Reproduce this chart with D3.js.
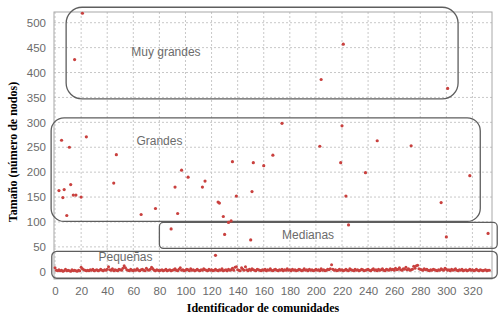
<!DOCTYPE html>
<html>
<head>
<meta charset="utf-8">
<script src="https://cdn.jsdelivr.net/npm/d3@7"></script>
<style>
  body { margin: 0; background: #fff; }
  .tick text { font-family: "Liberation Sans", Arial, sans-serif; font-size: 11.5px; fill: #6b6b6b; }
  .grid line { stroke: #c8c8c8; stroke-dasharray: 2,2; }
  .axis-title { font-family: "Liberation Serif", "Times New Roman", serif; font-weight: bold; font-size: 12px; fill: #000; }
  .box-label { font-family: "Liberation Sans", Arial, sans-serif; font-size: 12px; fill: #6b6b6b; }
</style>
</head>
<body>
<svg id="chart" width="500" height="317"></svg>
<script>
// communities with more than ~30 nodes: [identificador, tamaño]
var grandesIds = [21, 15, 221, 204, 301,
    5, 11, 24, 47, 174, 220, 203, 247, 273, 167,
    3, 6, 7, 9, 12, 14, 16, 20, 45, 66, 77, 92, 94, 97, 102, 113, 115, 125, 126, 129,
    135, 136, 139, 152, 160, 151, 219, 238, 223, 296, 318,
    89, 130, 133, 150, 225, 300, 332, 123]
var grandesSizes = [519, 426, 457, 386, 368,
    264, 250, 271, 235, 298, 293, 252, 263, 253, 234,
    163, 149, 165, 113, 175, 154, 154, 150, 178, 115, 127, 170, 117, 204, 190, 170, 182, 140, 138, 111,
    102, 221, 152, 219, 213, 161, 219, 199, 152, 139, 193,
    86, 75, 99, 64, 94, 70, 77, 33]

// small communities, one value per id 0..333
var pequenasSizes = [
    8,3,2,4,2,3,1,2,5,2,3,2,1,4,2,3,2,1,3,2,
    9,6,4,3,2,3,2,4,3,5,2,3,4,2,3,5,3,2,4,3,
    5,10,4,3,6,2,4,3,2,5,4,3,7,12,8,4,3,2,5,3,
    2,4,3,6,3,2,4,5,3,2,7,4,3,5,9,6,3,2,4,3,
    2,3,4,2,3,5,2,3,4,2,3,4,6,3,2,5,8,3,4,2,
    3,5,4,2,6,3,4,2,3,5,3,2,4,3,6,4,3,2,5,3,
    4,2,3,5,3,2,4,3,6,2,3,4,2,5,3,4,7,3,9,10,
    4,3,2,8,5,3,10,4,2,5,3,6,4,3,2,5,4,3,2,4,
    3,5,2,4,3,6,3,2,4,5,3,2,4,3,5,2,4,3,6,3,
    4,2,5,3,4,2,3,5,4,2,3,6,3,4,2,5,3,4,2,3,
    5,3,4,2,6,3,4,2,3,5,4,6,14,5,3,4,2,3,5,3,
    4,2,3,5,3,2,6,4,3,2,5,3,4,2,3,5,4,2,3,4,
    5,3,2,4,6,3,4,2,5,3,4,6,3,2,5,4,3,6,4,5,
    3,7,4,5,8,4,3,6,5,9,4,6,3,4,5,11,7,12,13,6,
    5,4,3,6,4,5,3,2,4,3,5,4,3,2,4,3,6,4,3,7,
    5,3,4,2,5,3,4,6,3,2,4,3,5,2,3,4,2,3,5,3,
    4,2,3,5,3,2,4,3,2,3,4,2,3,3]

var xTicks = d3.range(0, 321, 20)
var yTicks = d3.range(0, 501, 50)

// group names and their extents (in data units)
var grupos = ["Muy grandes", "Grandes", "Medianas", "Pequeñas"]
var grupoX = [[8.5, 309], [-3, 326], [80, 339], [-2.5, 339]]
var grupoY = [[347, 531], [101, 309], [47, 99], [-13, 41]]
var grupoLabel = [[85, 433], [80, 255], [194, 65], [54, 21]]

var margin = { top: 12, left: 54, right: 8, bottom: 38 },
    width = 500 - margin.left - margin.right,
    height = 317 - margin.top - margin.bottom

var svg = d3.select('#chart')
var g = svg.append('g')
    .attr('transform', 'translate(' + margin.left + ',' + margin.top + ')')

var x = d3.scaleLinear().domain([-0.8, 335]).range([0, width])
var y = d3.scaleLinear().domain([-14.5, 521.5]).range([height, 0])

// grid
g.append('g').attr('class', 'grid')
    .selectAll('line').data(xTicks).join('line')
    .attr('x1', d => x(d)).attr('x2', d => x(d))
    .attr('y1', 0).attr('y2', height)
g.append('g').attr('class', 'grid')
    .selectAll('line').data(yTicks).join('line')
    .attr('y1', d => y(d)).attr('y2', d => y(d))
    .attr('x1', 0).attr('x2', width)

// axes (no lines, only labels)
var xAxis = g.append('g')
    .attr('transform', 'translate(0,' + height + ')')
    .call(d3.axisBottom(x).tickValues(xTicks).tickSize(0).tickPadding(8))
xAxis.select('.domain').remove()

var yAxis = g.append('g')
    .call(d3.axisLeft(y).tickValues(yTicks).tickSize(0).tickPadding(8))
yAxis.select('.domain').remove()

// frame
g.append('rect')
    .attr('width', width).attr('height', height)
    .attr('fill', 'none').attr('stroke', '#a8a8a8').attr('stroke-width', 1)

// group boxes
var radii = [16, 13, 4, 5]
g.append('g').selectAll('rect').data(grupos).join('rect')
    .attr('x', (d, i) => x(grupoX[i][0]))
    .attr('width', (d, i) => x(grupoX[i][1]) - x(grupoX[i][0]))
    .attr('y', (d, i) => y(grupoY[i][1]))
    .attr('height', (d, i) => y(grupoY[i][0]) - y(grupoY[i][1]))
    .attr('rx', (d, i) => radii[i])
    .attr('fill', 'none')
    .attr('stroke', '#5e5e5e')
    .attr('stroke-width', 1.3)

g.append('g').selectAll('text').data(grupos).join('text')
    .attr('class', 'box-label')
    .attr('text-anchor', 'middle')
    .attr('x', (d, i) => x(grupoLabel[i][0]))
    .attr('y', (d, i) => y(grupoLabel[i][1]))
    .text(d => d)

// points
var red = '#c9403e'
g.append('g').selectAll('circle').data(pequenasSizes).join('circle')
    .attr('cx', (d, i) => x(i))
    .attr('cy', d => y(d))
    .attr('r', 1.5)
    .attr('fill', red)

g.append('g').selectAll('circle').data(grandesIds).join('circle')
    .attr('cx', d => x(d))
    .attr('cy', (d, i) => y(grandesSizes[i]))
    .attr('r', 1.6)
    .attr('fill', red)

// axis titles
svg.append('text')
    .attr('class', 'axis-title')
    .attr('text-anchor', 'middle')
    .attr('x', margin.left + width / 2 - 10)
    .attr('y', 312)
    .text('Identificador de comunidades')

svg.append('text')
    .attr('class', 'axis-title')
    .attr('text-anchor', 'middle')
    .attr('transform', 'translate(17,' + 152 + ') rotate(-90)')
    .text('Tamaño (número de nodos)')
</script>
</body>
</html>
